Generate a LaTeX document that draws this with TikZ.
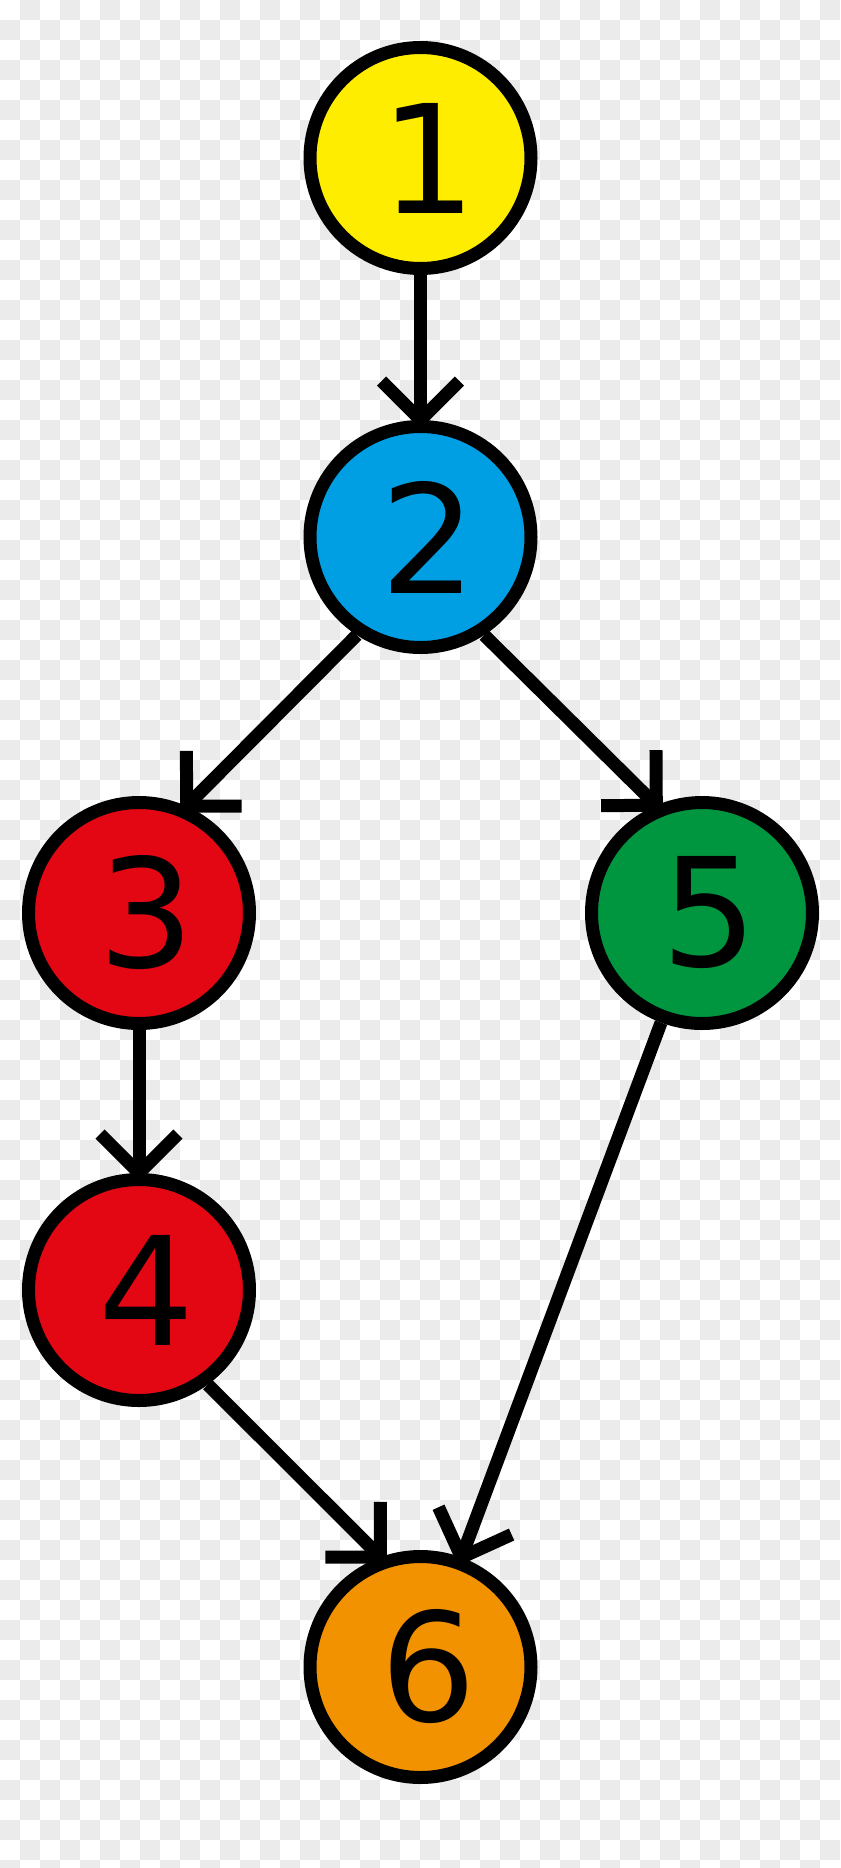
\documentclass[tikz,border=0pt]{standalone}
\usepackage{fontspec}
\setmainfont{DejaVu Sans}
\usetikzlibrary{arrows.meta}
\definecolor{cyel}{HTML}{FFED00}
\definecolor{cblu}{HTML}{009FE3}
\definecolor{cred}{HTML}{E30613}
\definecolor{cgrn}{HTML}{009640}
\definecolor{corg}{HTML}{F39200}
\definecolor{chk}{HTML}{EBEBEB}
\newcommand\dg[1]{\hspace*{12pt}#1}
\tikzset{
  vertex/.style={circle, draw=black, line width=9.75pt, minimum size=165.75pt,
    inner sep=0pt, font=\fontsize{113.25pt}{113.25pt}\selectfont},
  edgearrow/.style={line width=9.75pt, draw=black, shorten >=-6.9pt,
    -{Straight Barb[length=29.25pt,width=58.5pt]}}
}
\begin{document}
\begin{tikzpicture}[x=0.75pt,y=-0.75pt]
\useasboundingbox (0,0) rectangle (840,1868);
\begin{scope}
\clip (0,0) rectangle (840,1868);
\fill[white] (0,0) rectangle (840,1868);
\foreach \i in {0,2,...,40}{
  \foreach \j in {0,2,...,92}{
    \fill[chk] (20*\i+20,20*\j) rectangle +(20,20);
    \fill[chk] (20*\i,20*\j+20) rectangle +(20,20);
  }
}
\end{scope}
\node[vertex, fill=cyel] (n1) at (420.5,158) {\dg{1}};
\node[vertex, fill=cblu] (n2) at (420.5,537) {\dg{2}};
\node[vertex, fill=cred] (n3) at (139,913) {\dg{3}};
\node[vertex, fill=cgrn] (n5) at (702,913) {\dg{5}};
\node[vertex, fill=cred] (n4) at (139,1290) {\dg{4}};
\node[vertex, fill=corg] (n6) at (420.5,1667) {\dg{6}};
\draw[edgearrow] (n1.south) -- (n2.north);
\draw[edgearrow] (n2.237.2) -- (n3.66.5);
\draw[edgearrow] (n2.-57.2) -- (n5.113.5);
\draw[edgearrow] (n3.south) -- (n4.north);
\draw[edgearrow] (n4.-54) -- (n6.110.8);
\draw[edgearrow] (n5) -- (n6);
\end{tikzpicture}
\end{document}
